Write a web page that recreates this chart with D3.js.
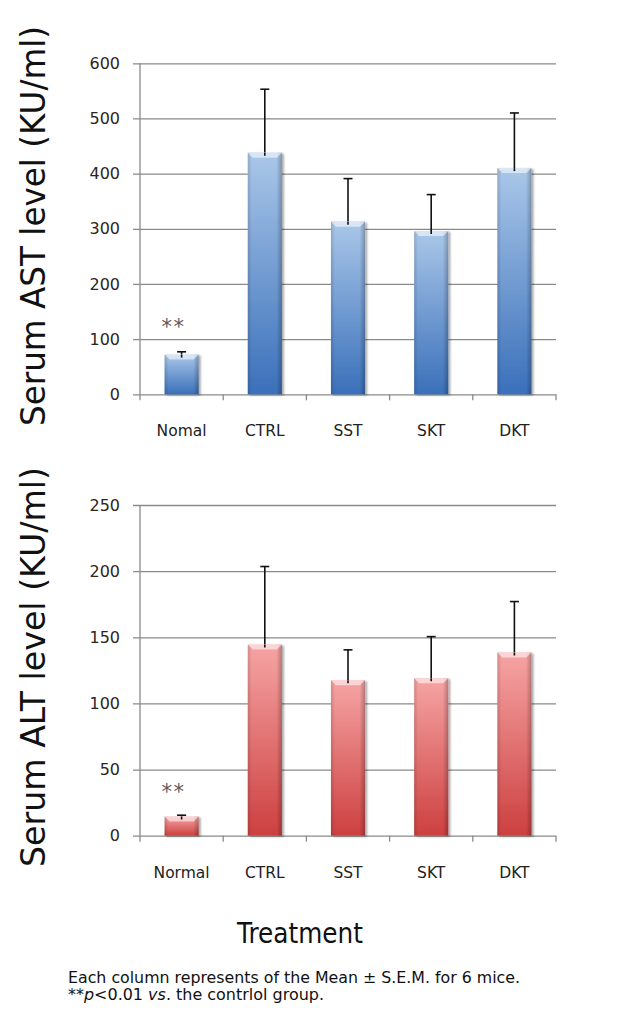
<!DOCTYPE html>
<html>
<head>
<meta charset="utf-8">
<script src="https://cdn.jsdelivr.net/npm/d3@7"></script>
<style>
  html, body { margin: 0; padding: 0; background: #fff; }
  svg { display: block; }
  text { font-family: "DejaVu Sans", Verdana, sans-serif; }
</style>
</head>
<body>
<svg id="chart" width="618" height="1010"></svg>
<script>
// Treatment groups (x axis)
const groups = ["Nomal", "CTRL", "SST", "SKT", "DKT"];
const groupsAlt = ["Normal", "CTRL", "SST", "SKT", "DKT"];

// Serum AST (KU/ml): mean and upper error bar (mean + S.E.M.)
const astMean = [72, 438, 313, 296, 410];
const astUpper = [77, 553, 391, 362, 510];
const astTicks = [0, 100, 200, 300, 400, 500, 600];

// Serum ALT (KU/ml): mean and upper error bar (mean + S.E.M.)
const altMean = [14.5, 144.5, 117.5, 119, 138.5];
const altUpper = [15.5, 203.5, 140.5, 150.5, 177];
const altTicks = [0, 50, 100, 150, 200, 250];

// Significance marks vs. control group
const sigMarks = ["**", "", "", "", ""];

const svg = d3.select("#chart");
const defs = svg.append("defs");

function makeGradients(id, top, bottom) {
  const g = defs.append("linearGradient").attr("id", id)
    .attr("x1", 0).attr("y1", 0).attr("x2", 0).attr("y2", 1);
  g.append("stop").attr("offset", "0%").attr("stop-color", top);
  g.append("stop").attr("offset", "100%").attr("stop-color", bottom);
}
makeGradients("blueFill", "#aac7e9", "#3a70ba");
makeGradients("redFill", "#f6a4a4", "#cd4040");

// side shading for a rounded, bevelled look
const side = defs.append("linearGradient").attr("id", "sideShade")
  .attr("x1", 0).attr("y1", 0).attr("x2", 1).attr("y2", 0);
side.append("stop").attr("offset", "0%").attr("stop-color", "#000").attr("stop-opacity", 0.14);
side.append("stop").attr("offset", "12%").attr("stop-color", "#000").attr("stop-opacity", 0.0);
side.append("stop").attr("offset", "84%").attr("stop-color", "#000").attr("stop-opacity", 0.0);
side.append("stop").attr("offset", "100%").attr("stop-color", "#000").attr("stop-opacity", 0.25);

const shadow = defs.append("filter").attr("id", "barShadow")
  .attr("x", "-20%").attr("y", "-5%").attr("width", "150%").attr("height", "115%");
shadow.append("feGaussianBlur").attr("in", "SourceAlpha").attr("stdDeviation", 1.2).attr("result", "b");
shadow.append("feOffset").attr("in", "b").attr("dx", 1.5).attr("dy", 1).attr("result", "o");
shadow.append("feComponentTransfer").attr("in", "o").attr("result", "s")
  .append("feFuncA").attr("type", "linear").attr("slope", 0.35);
const merge = shadow.append("feMerge");
merge.append("feMergeNode").attr("in", "s");
merge.append("feMergeNode").attr("in", "SourceGraphic");

function drawPanel(opts) {
  const { top, bottom, left, right, cats, mean, upper, ticks, maxV, fill, label } = opts;
  const g = svg.append("g");

  const x = d3.scaleBand().domain(cats).range([left, right]).paddingInner(0.59).paddingOuter(0.295);
  const xb = d3.scaleBand().domain(cats).range([left, right]);
  const y = d3.scaleLinear().domain([0, maxV]).range([bottom, top]);

  // horizontal gridlines and y ticks
  const yAxis = d3.axisLeft(y).tickValues(ticks).tickSize(-(right - left)).tickSizeOuter(0);
  const ya = g.append("g").attr("transform", `translate(${left},0)`).call(yAxis);
  ya.select(".domain").remove();
  ya.selectAll(".tick line").attr("stroke", "#8a8a8a").attr("stroke-width", 1.3).attr("x1", -7);
  ya.selectAll(".tick text").attr("fill", "#2e2420").attr("font-size", 16)
    .attr("font-family", "'DejaVu Sans', Verdana, sans-serif").attr("x", -20);

  // y axis line
  g.append("line").attr("x1", left).attr("x2", left).attr("y1", top).attr("y2", bottom)
    .attr("stroke", "#8a8a8a").attr("stroke-width", 1.3);

  // x axis ticks at category boundaries
  const bounds = cats.map(c => xb(c)).concat([right]);
  g.selectAll(".xt").data(bounds).join("line")
    .attr("x1", d => d).attr("x2", d => d).attr("y1", bottom).attr("y2", bottom + 6)
    .attr("stroke", "#8a8a8a").attr("stroke-width", 1.3);

  // category labels
  g.selectAll(".xl").data(cats).join("text")
    .attr("x", d => xb(d) + xb.bandwidth() / 2)
    .attr("y", bottom + 42)
    .attr("text-anchor", "middle")
    .attr("font-size", 15.5)
    .attr("fill", "#222")
    .text(d => d);

  // error bars (upper only)
  const eg = g.append("g");
  cats.forEach((c, i) => {
    const cx = x(c) + x.bandwidth() / 2;
    eg.append("line").attr("x1", cx).attr("x2", cx).attr("y1", y(mean[i])).attr("y2", y(upper[i]))
      .attr("stroke", "#111").attr("stroke-width", 1.6);
    eg.append("line").attr("x1", cx - 4.5).attr("x2", cx + 4.5).attr("y1", y(upper[i])).attr("y2", y(upper[i]))
      .attr("stroke", "#111").attr("stroke-width", 1.6);
  });

  // bars
  const bars = g.append("g");
  cats.forEach((c, i) => {
    const bx = x(c), bw = x.bandwidth(), by = y(mean[i]), bh = bottom - y(mean[i]);
    const bg = bars.append("g");
    bg.append("rect").attr("x", bx).attr("y", by).attr("width", bw).attr("height", bh)
      .attr("fill", `url(#${fill})`).attr("filter", "url(#barShadow)");
    bg.append("rect").attr("x", bx).attr("y", by).attr("width", bw).attr("height", bh)
      .attr("fill", "url(#sideShade)");
    // bevelled top highlight
    const bev = Math.min(5, bh / 2);
    bg.append("path")
      .attr("d", `M${bx},${by} L${bx + bw},${by} L${bx + bw - bev},${by + bev} L${bx + bev},${by + bev} Z`)
      .attr("fill", "#fff").attr("opacity", 0.55);
  });

  // error bar stems poke slightly into the bar top
  cats.forEach((c, i) => {
    const cx = x(c) + x.bandwidth() / 2;
    g.append("line").attr("x1", cx).attr("x2", cx).attr("y1", y(mean[i]) + 3).attr("y2", y(mean[i]))
      .attr("stroke", "#111").attr("stroke-width", 1.6);
  });

  // significance marks
  g.selectAll(".sig").data(cats).join("text")
    .attr("x", d => x(d) + x.bandwidth() / 2 - 8)
    .attr("y", opts.sigY)
    .attr("text-anchor", "middle")
    .attr("font-size", 21)
    .attr("letter-spacing", 1.5)
    .attr("fill", "#5a5a5a")
    .text((d, i) => sigMarks[i]);

  // y axis title
  svg.append("text")
    .attr("transform", `translate(${opts.labelX},${opts.labelY}) rotate(-90)`)
    .attr("text-anchor", "middle")
    .attr("font-size", 33)
    .attr("textLength", 400)
    .attr("lengthAdjust", "spacingAndGlyphs")
    .attr("fill", "#111")
    .text(label);
}

drawPanel({
  top: 63.3, bottom: 394.3, left: 140, right: 556,
  cats: groups, mean: astMean, upper: astUpper, ticks: astTicks, maxV: 600,
  fill: "blueFill", label: "Serum AST level (KU/ml)", labelX: 45, labelY: 226, sigY: 334
});

drawPanel({
  top: 505, bottom: 835.7, left: 140, right: 556,
  cats: groupsAlt, mean: altMean, upper: altUpper, ticks: altTicks, maxV: 250,
  fill: "redFill", label: "Serum ALT level (KU/ml)", labelX: 45, labelY: 667, sigY: 799
});

// shared x axis title
svg.append("text").attr("x", 300).attr("y", 943).attr("text-anchor", "middle")
  .attr("font-size", 29).attr("textLength", 126).attr("lengthAdjust", "spacingAndGlyphs")
  .attr("fill", "#111").text("Treatment");

// footnote
svg.append("text").attr("x", 68).attr("y", 983).attr("font-size", 15.5).attr("fill", "#111")
  .attr("textLength", 452).attr("lengthAdjust", "spacingAndGlyphs")
  .text("Each column represents of the Mean \u00b1 S.E.M. for 6 mice.");
const l2 = svg.append("text").attr("x", 68).attr("y", 1000).attr("font-size", 15.5).attr("fill", "#111")
  .attr("textLength", 256).attr("lengthAdjust", "spacingAndGlyphs");
l2.append("tspan").text("**");
l2.append("tspan").attr("font-style", "italic").text("p");
l2.append("tspan").text("<0.01 ");
l2.append("tspan").attr("font-style", "italic").text("vs");
l2.append("tspan").text(". the contrlol group.");
</script>
</body>
</html>
